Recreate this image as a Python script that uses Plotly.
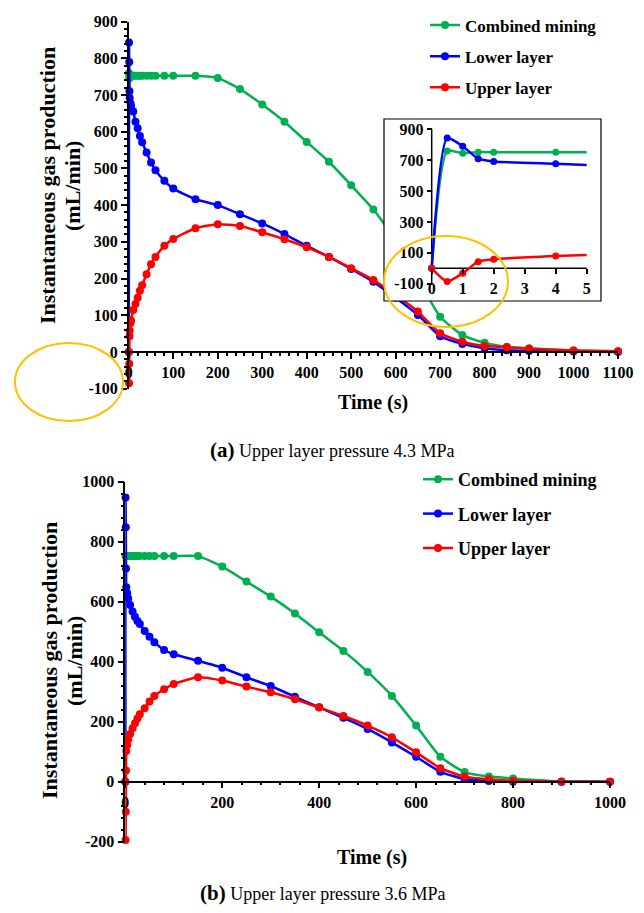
import plotly.graph_objects as go

W, H = 644, 913

# ---------------- data: (a) upper layer pressure 4.3 MPa ----------------
time_a = [0, 0.5, 1, 1.5, 2, 4, 5, 10, 15, 20, 25, 30, 40, 50, 60, 80, 100, 150, 200, 250,
          300, 350, 400, 450, 500, 550, 600, 650, 700, 750, 800, 850, 900, 1000, 1100]
combined_a = [0, 760, 745, 752, 752, 752, 752, 752, 752, 752, 752, 752, 752, 752, 752, 752, 752, 752, 746, 716,
              674, 627, 572, 518, 454, 388, 305, 200, 96, 46, 25, 14, 10, 4, 2]
lower_a = [0, 843, 790, 710, 692, 677, 669, 655, 627, 609, 588, 571, 543, 516, 495, 466, 445, 416, 400, 375,
           350, 321, 289, 259, 226, 191, 148, 101, 43, 22, 10, 5, 3, 1, 0]
upper_a = [0, -85, -32, 43, 58, 79, 86, 114, 131, 148, 167, 182, 212, 239, 259, 289, 308, 337, 348, 343,
           326, 307, 285, 259, 228, 196, 155, 110, 51, 28, 16, 13, 9, 4, 2]

# ---------------- data: (b) upper layer pressure 3.6 MPa ----------------
time_b = [0, 0.5, 1, 1.5, 2, 4, 6, 10, 15, 20, 25, 30, 40, 50, 60, 80, 100, 150, 200, 250,
          300, 350, 400, 450, 500, 550, 600, 650, 700, 750, 800, 900, 1000]
combined_b = [0, 752, 752, 752, 752, 752, 752, 752, 752, 752, 752, 752, 752, 752, 752, 752, 752, 752, 717, 667,
              617, 561, 498, 436, 366, 286, 187, 83, 32, 17, 11, 1, 0]
lower_b = [0, 947, 848, 711, 648, 628, 611, 589, 567, 550, 536, 526, 502, 483, 465, 439, 425, 403, 380, 348,
           319, 283, 248, 213, 176, 131, 83, 33, 9, 2, 0, 0, 0]
upper_b = [0, -194, -100, 37, 102, 122, 141, 159, 178, 195, 211, 225, 245, 267, 286, 308, 326, 348, 337, 317,
           298, 275, 247, 219, 187, 148, 98, 45, 17, 8, 3, 0, 0]

series_names = ["Combined mining", "Lower layer", "Upper layer"]
colors = ["#00B050", "#0000FF", "#FF0000"]

# tick labels
y_ticks_a = [-100, 0, 100, 200, 300, 400, 500, 600, 700, 800, 900]
y_ticks_b = [-200, 0, 200, 400, 600, 800, 1000]
inset_x_ticks = [0, 1, 2, 3, 4, 5]
inset_y_ticks = [-100, 100, 300, 500, 700, 900]
inset_xmax = 5

FONT = "Liberation Serif"


def px(x):
    return x / W


def py(y):
    return 1 - y / H


def labels(vals):
    return [str(v) for v in vals]


fig = go.Figure()

# main chart (a)
for name, col, vals in zip(series_names, colors, [combined_a, lower_a, upper_a]):
    fig.add_trace(go.Scatter(
        x=time_a, y=vals, name=name, mode="lines+markers",
        line=dict(color=col, width=2.5, shape="spline", smoothing=0.5),
        marker=dict(color=col, size=8), cliponaxis=False,
        xaxis="x", yaxis="y", legend="legend", legendgroup="a" + name,
    ))

# main chart (b)
for name, col, vals in zip(series_names, colors, [combined_b, lower_b, upper_b]):
    fig.add_trace(go.Scatter(
        x=time_b, y=vals, name=name, mode="lines+markers",
        line=dict(color=col, width=2.5, shape="spline", smoothing=0.5),
        marker=dict(color=col, size=8), cliponaxis=False,
        xaxis="x2", yaxis="y2", legend="legend2", legendgroup="b" + name,
    ))

# inset of (a): first seconds
for name, col, vals in zip(series_names, colors, [combined_a, lower_a, upper_a]):
    t_line = [t for t in time_a if t <= inset_xmax]
    v_line = [v for t, v in zip(time_a, vals) if t <= inset_xmax]
    fig.add_trace(go.Scatter(
        x=t_line, y=v_line, mode="lines", showlegend=False,
        line=dict(color=col, width=2.5, shape="spline", smoothing=0.6),
        xaxis="x3", yaxis="y3", hoverinfo="skip",
    ))
    t_mk = [t for t in time_a if t < inset_xmax]
    v_mk = [v for t, v in zip(time_a, vals) if t < inset_xmax]
    fig.add_trace(go.Scatter(
        x=t_mk, y=v_mk, mode="markers", showlegend=False,
        marker=dict(color=col, size=7),
        xaxis="x3", yaxis="y3",
    ))

tickfont = dict(family=FONT, size=16, color="black", weight="bold")
axis_common = dict(showgrid=False, zeroline=False, showline=True, linecolor="black", linewidth=1.5,
                   ticks="outside", ticklen=6, tickwidth=1.5, tickcolor="black", tickfont=tickfont)


def minor(d):
    return dict(tickmode="linear", tick0=0, dtick=d, ticks="outside", ticklen=3,
                tickcolor="black", showgrid=False)


# inset geometry (pixels)
in_left, in_right, in_top, in_bot = 384, 601, 119, 301
in_x0px, in_unit_px = 431.7, 31.0
in_y0px, in_900px = 268.3, 129.3
in_ppu = (in_y0px - in_900px) / 900.0
in_xr = [(in_left - in_x0px) / in_unit_px, (in_right - in_x0px) / in_unit_px]
in_yr = [-(in_bot - in_y0px) / in_ppu, (in_y0px - in_top) / in_ppu]

fig.update_layout(
    width=W, height=H, autosize=False,
    margin=dict(l=0, r=0, t=0, b=0, pad=0, autoexpand=False),
    paper_bgcolor="white", plot_bgcolor="white",
    font=dict(family=FONT, color="black"),
    xaxis=dict(domain=[px(128.8), px(618)], range=[0, 1100], anchor="free", position=py(352),
               tick0=0, dtick=100, minor=minor(20), **axis_common),
    yaxis=dict(domain=[py(388.7), py(21.5)], range=[-100, 900], anchor="x",
               tickmode="array", tickvals=y_ticks_a, ticktext=labels(y_ticks_a),
               minor=minor(20), **axis_common),
    xaxis2=dict(domain=[px(125.3), px(610)], range=[0, 1000], anchor="free", position=py(781.7),
                tick0=0, dtick=200, minor=minor(40), **axis_common),
    yaxis2=dict(domain=[py(841.7), py(481.7)], range=[-200, 1000], anchor="x2",
                tickmode="array", tickvals=y_ticks_b, ticktext=labels(y_ticks_b),
                minor=minor(40), **axis_common),
    xaxis3=dict(domain=[px(in_left), px(in_right)], range=in_xr, anchor="free", position=py(in_y0px),
                tickmode="array", tickvals=inset_x_ticks, ticktext=labels(inset_x_ticks),
                showgrid=False, zeroline=False, showline=False,
                ticks="outside", ticklen=5, tickwidth=1.5, tickcolor="black", tickfont=tickfont),
    yaxis3=dict(domain=[py(in_bot), py(in_top)], range=in_yr, anchor="free", position=px(in_x0px),
                tickmode="array", tickvals=inset_y_ticks, ticktext=labels(inset_y_ticks),
                showgrid=False, zeroline=False, showline=False,
                ticks="outside", ticklen=5, tickwidth=1.5, tickcolor="black", tickfont=tickfont),
    legend=dict(x=px(425), y=py(7.5), xanchor="left", yanchor="top", bgcolor="rgba(0,0,0,0)",
                font=dict(family=FONT, size=17, color="black", weight="bold"),
                tracegroupgap=6, borderwidth=0),
    legend2=dict(x=px(418), y=py(461), xanchor="left", yanchor="top", bgcolor="rgba(0,0,0,0)",
                 font=dict(family=FONT, size=18, color="black", weight="bold"),
                 tracegroupgap=8, borderwidth=0),
)

shapes = [
    # white inset background (drawn in inset subplot layer, above main traces)
    dict(type="rect", xref="x3", yref="y3", x0=in_xr[0], x1=in_xr[1], y0=in_yr[0], y1=in_yr[1],
         fillcolor="white", line=dict(width=0), layer="below"),
    dict(type="line", xref="x3", yref="y3", x0=0, x1=inset_xmax, y0=0, y1=0,
         line=dict(color="black", width=1.5), layer="below"),
    dict(type="line", xref="x3", yref="y3", x0=0, x1=0, y0=-100, y1=900,
         line=dict(color="black", width=1.5), layer="below"),
    dict(type="rect", xref="paper", yref="paper", x0=px(in_left), x1=px(in_right), y0=py(in_bot), y1=py(in_top),
         line=dict(color="black", width=1.2), fillcolor="rgba(0,0,0,0)", layer="above"),
    dict(type="circle", xref="paper", yref="paper", x0=px(15), x1=px(123), y0=py(421), y1=py(343),
         line=dict(color="#FFC000", width=2), layer="above"),
    dict(type="circle", xref="paper", yref="paper", x0=px(384), x1=px(508), y0=py(327), y1=py(236),
         line=dict(color="#FFC000", width=2), layer="above"),
]
fig.update_layout(shapes=shapes)

title_font = dict(family=FONT, size=20, color="black", weight="bold")
ytitle_font = dict(family=FONT, size=22, color="black", weight="bold")


def ann_text(text, x, y, font, angle=0):
    return dict(text=text, x=px(x), y=py(y), xref="paper", yref="paper", textangle=angle,
                showarrow=False, font=font, xanchor="center", yanchor="middle")


ann = [
    ann_text("Instantaneous gas production", 48, 186, ytitle_font, -90),
    ann_text("(mL/min)", 73, 186, ytitle_font, -90),
    ann_text("Instantaneous gas production", 49, 661, ytitle_font, -90),
    ann_text("(mL/min)", 74, 661, ytitle_font, -90),
    ann_text("Time (s)", 373, 402, title_font),
    ann_text("Time (s)", 372, 857, title_font),
    ann_text("<span style='font-size:21px'><b>(a)</b></span> Upper layer pressure 4.3 MPa", 332, 450,
             dict(family=FONT, size=18, color="black")),
    ann_text("<span style='font-size:21px'><b>(b)</b></span> Upper layer pressure 3.6 MPa", 323, 893,
             dict(family=FONT, size=18, color="black")),
]
fig.update_layout(annotations=ann)

fig.write_html(
    "out.html",
    config={"displayModeBar": False},
    post_script="document.documentElement.style.margin='0';document.body.style.margin='0';"
                "document.body.style.padding='0';document.body.style.overflow='hidden';",
)
